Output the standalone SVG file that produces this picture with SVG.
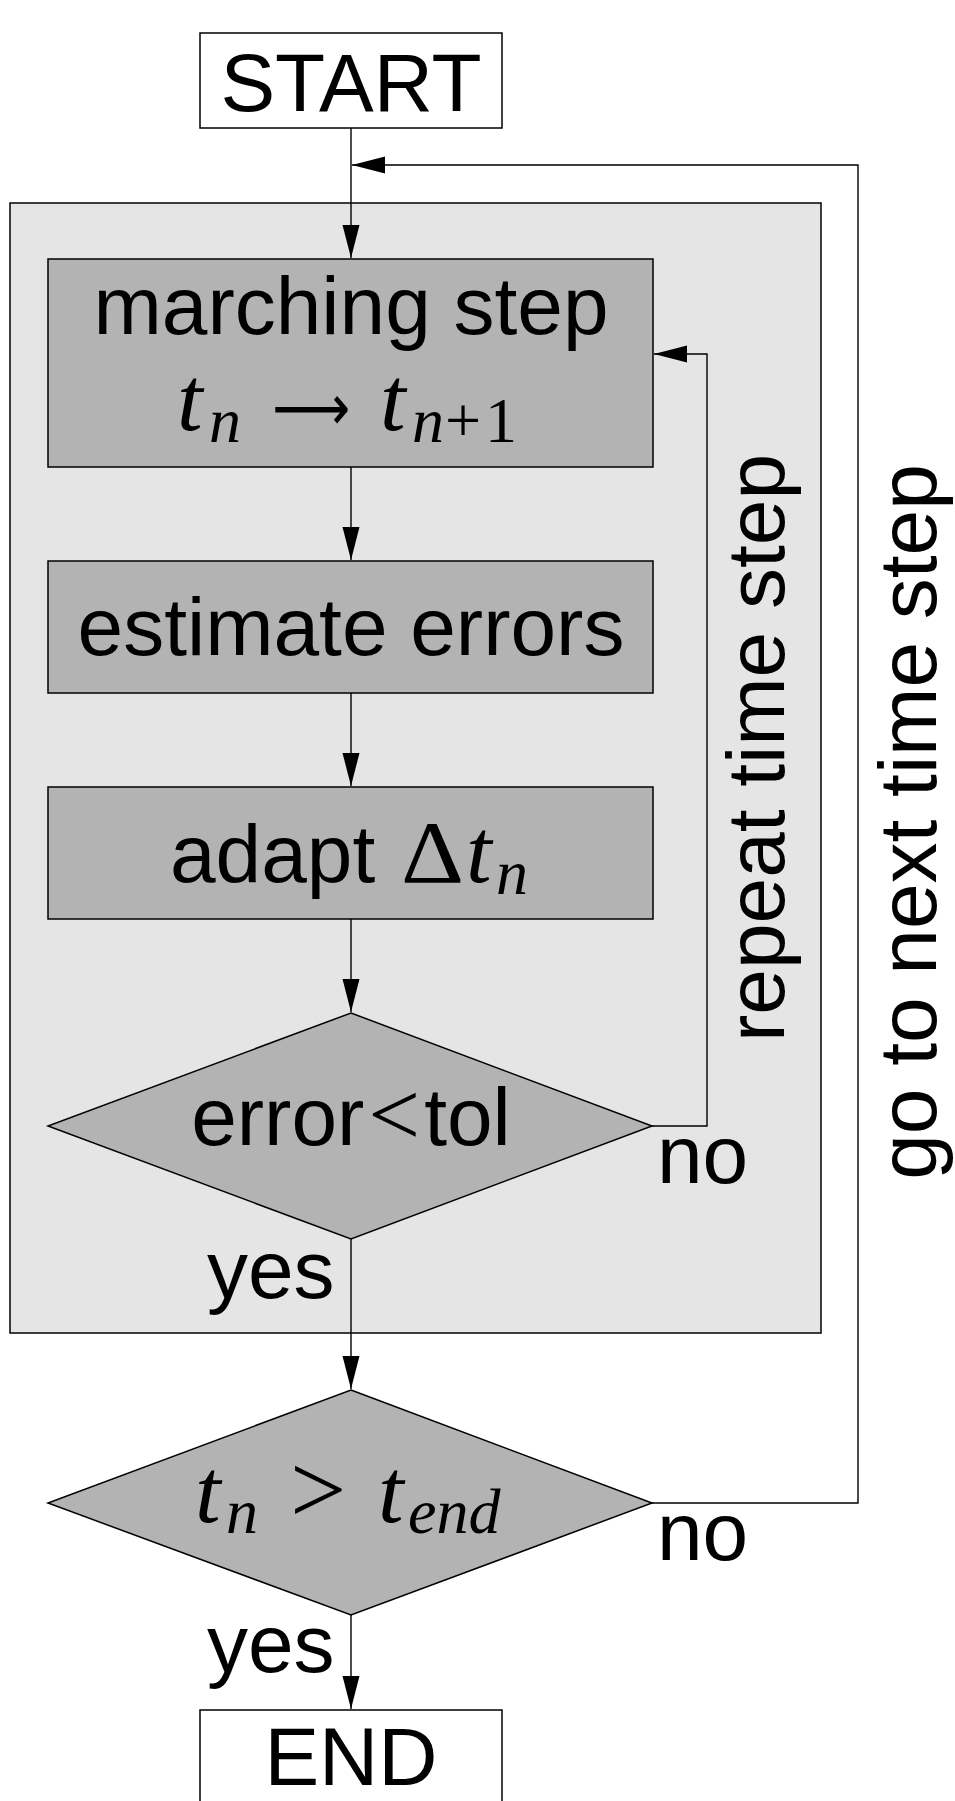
<svg xmlns="http://www.w3.org/2000/svg" width="955" height="1801" viewBox="0 0 955 1801">
<style>
.sans{font-family:"Liberation Sans",Arial,Helvetica,sans-serif;font-size:82px;fill:#000}
.math{font-family:"Liberation Serif","DejaVu Serif",serif;fill:#000}
.it{font-style:italic}
.box{fill:#b3b3b3;stroke:#000;stroke-width:1.5}
.term{fill:#fff;stroke:#000;stroke-width:1.5}
.conn{fill:none;stroke:#000;stroke-width:1.4}
</style>
<defs>
<marker id="arr" markerUnits="userSpaceOnUse" markerWidth="34" markerHeight="18" refX="33" refY="8.5" orient="auto">
<path d="M0,0 L33,8.5 L0,17 z" fill="#000"/>
</marker>
</defs>
<rect width="955" height="1801" fill="#fff"/>
<g id="loop-frame">
<rect x="10" y="203" width="811" height="1130" fill="#e5e5e5" stroke="#000" stroke-width="1.5"/>
</g>
<g id="start">
<rect class="term" x="200" y="33" width="302" height="95"/>
<text class="sans" x="351" y="111" text-anchor="middle" font-size="80">START</text>
</g>
<g id="marching">
<rect class="box" x="48" y="259" width="605" height="208"/>
<text class="sans" x="351" y="334" text-anchor="middle">marching step</text>
<text class="math it" x="177" y="430" font-size="92">t</text>
<text class="math it" x="209" y="442" font-size="64">n</text>
<text x="272" y="430" font-family="'DejaVu Sans',sans-serif" font-size="64" textLength="78" lengthAdjust="spacingAndGlyphs">⟶</text>
<text class="math it" x="380" y="430" font-size="92">t</text>
<text class="math it" x="412" y="442" font-size="64">n</text>
<text class="math" x="445" y="442" font-size="64">+</text>
<text class="math" x="485" y="442" font-size="64">1</text>
</g>
<g id="estimate">
<rect class="box" x="48" y="561" width="605" height="132"/>
<text class="sans" x="351" y="655" text-anchor="middle">estimate errors</text>
</g>
<g id="adapt">
<rect class="box" x="48" y="787" width="605" height="132"/>
<text class="sans" x="170" y="882">adapt</text>
<text class="math" x="401" y="882" font-size="88" textLength="63" lengthAdjust="spacingAndGlyphs">Δ</text>
<text class="math it" x="466" y="882" font-size="92">t</text>
<text class="math it" x="496" y="894" font-size="64">n</text>
</g>
<g id="check-error">
<polygon class="box" points="351,1013 652,1126 351,1239 48,1126" stroke-width="1.4"/>
<text class="sans" x="351" y="1145" text-anchor="middle">error<tspan class="math" font-size="92" dx="4">&lt;</tspan><tspan dx="4">tol</tspan></text>
</g>
<g id="check-end">
<polygon class="box" points="351,1390 652,1503 351,1615 48,1503" stroke-width="1.4"/>
<text class="math it" x="195" y="1522" font-size="92">t</text>
<text class="math it" x="226" y="1533" font-size="64">n</text>
<text class="math" x="290" y="1523" font-size="100">&gt;</text>
<text class="math it" x="378" y="1522" font-size="92">t</text>
<text class="math it" x="408" y="1533" font-size="64">end</text>
</g>
<g id="end">
<rect class="term" x="200" y="1710" width="302" height="100"/>
<text class="sans" x="351" y="1785" text-anchor="middle" font-size="80">END</text>
</g>
<g id="connectors">
<path class="conn" d="M351,128 V258" marker-end="url(#arr)"/>
<path class="conn" d="M351,467 V560" marker-end="url(#arr)"/>
<path class="conn" d="M351,693 V786" marker-end="url(#arr)"/>
<path class="conn" d="M351,919 V1012" marker-end="url(#arr)"/>
<path class="conn" d="M351,1239 V1389" marker-end="url(#arr)"/>
<path class="conn" d="M351,1615 V1709" marker-end="url(#arr)"/>
<path class="conn" d="M652,1126 H707 V354 H654" marker-end="url(#arr)"/>
<path class="conn" d="M652,1503 H858 V165 H352" marker-end="url(#arr)"/>
</g>
<g id="labels">
<text class="sans" x="657" y="1183">no</text>
<text class="sans" x="207" y="1298">yes</text>
<text class="sans" x="657" y="1560">no</text>
<text class="sans" x="207" y="1672">yes</text>
<text class="sans" transform="translate(784,748) rotate(-90)" text-anchor="middle" font-size="83">repeat time step</text>
<text class="sans" transform="translate(936,822) rotate(-90)" text-anchor="middle" font-size="83">go to next time step</text>
</g>
</svg>
